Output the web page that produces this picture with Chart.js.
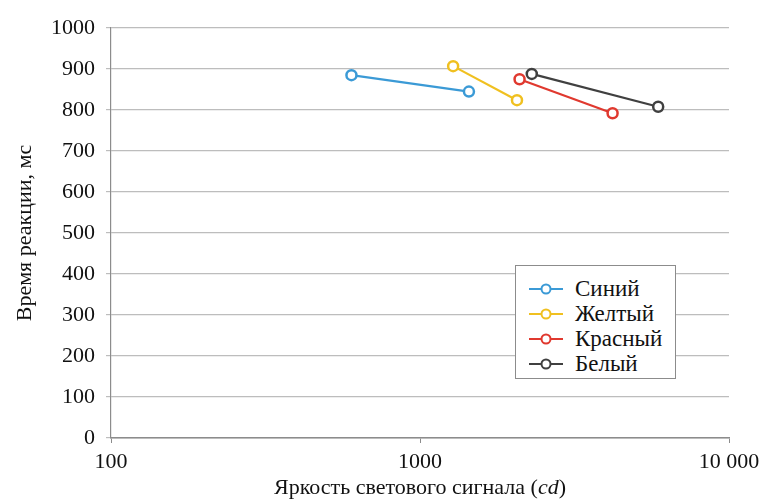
<!DOCTYPE html>
<html>
<head>
<meta charset="utf-8">
<script src="https://cdn.jsdelivr.net/npm/chart.js@4"></script>
<style>
  body { margin: 0; background: #fff; }
  #wrap { position: relative; width: 768px; height: 500px; }
  #legend {
    position: absolute; left: 515px; top: 265px; width: 161px; height: 114px;
    border: 1px solid #8c8c8c; background: #fff;
    font-family: "Liberation Serif", "DejaVu Serif", serif; font-size: 23px; color: #111;
    padding-top: 10px; box-sizing: border-box;
  }
  #legend .item { display: flex; align-items: center; height: 25px; }
  #legend svg { margin-left: 13px; margin-right: 12px; }
  #xtitle {
    position: absolute; left: 111px; width: 618px; top: 475px; text-align: center;
    font-family: "Liberation Serif", "DejaVu Serif", serif; font-size: 22px; line-height: 24px; color: #111;
  }
</style>
</head>
<body>
<div id="wrap">
  <canvas id="myChart" width="768" height="500"></canvas>
  <div id="legend"></div>
  <div id="xtitle">Яркость светового сигнала (<i>cd</i>)</div>
</div>
<script>
// data
const seriesNames = ['Синий', 'Желтый', 'Красный', 'Белый'];
const seriesColors = ['#3b9ad6', '#f0c020', '#e0392f', '#404040'];

const blueX = [600, 1440];
const blueY = [885, 845];
const yellowX = [1280, 2060];
const yellowY = [907, 824];
const redX = [2100, 4200];
const redY = [875, 792];
const whiteX = [2300, 5900];
const whiteY = [888, 808];

const xTicks = [100, 1000, 10000];
const xTickLabels = ['100', '1000', '10 000'];

const xs = [blueX, yellowX, redX, whiteX];
const ys = [blueY, yellowY, redY, whiteY];

const font = "'Liberation Serif', 'DejaVu Serif', serif";

const datasets = seriesNames.map((name, i) => ({
    label: name,
    data: xs[i].map((x, j) => ({ x: x, y: ys[i][j] })),
    borderColor: seriesColors[i],
    backgroundColor: '#fff',
    pointBackgroundColor: '#fff',
    pointBorderColor: seriesColors[i],
    pointBorderWidth: 2.5,
    pointRadius: 5,
    borderWidth: 2.2,
    showLine: true,
    fill: false
}));

new Chart(document.getElementById('myChart'), {
    type: 'scatter',
    data: { datasets: datasets },
    options: {
        responsive: false,
        animation: false,
        layout: { padding: { top: 28, right: 39, left: 0, bottom: 0 } },
        plugins: { legend: { display: false }, tooltip: { enabled: false } },
        scales: {
            x: {
                type: 'logarithmic',
                min: 100,
                max: 10000,
                afterBuildTicks: scale => { scale.ticks = xTicks.map(v => ({ value: v })); },
                afterFit: scale => { scale.height = 62; },
                ticks: {
                    color: '#111',
                    font: { family: font, size: 22 },
                    padding: 6,
                    maxRotation: 0,
                    callback: (v) => xTickLabels[xTicks.indexOf(v)]
                },
                grid: { drawOnChartArea: false, drawTicks: true, tickLength: 5, color: '#8c8c8c' },
                border: { color: '#8c8c8c', width: 1.5 },
                title: { display: false }
            },
            y: {
                min: 0,
                max: 1000,
                afterFit: scale => { scale.width = 111; },
                ticks: {
                    stepSize: 100,
                    color: '#111',
                    font: { family: font, size: 22 },
                    padding: 11,
                    callback: (v) => String(v)
                },
                grid: { color: '#bdbdbd', tickLength: 5, lineWidth: 1.2 },
                border: { color: '#8c8c8c', width: 1.2 },
                title: {
                    display: true,
                    text: 'Время реакции, мс',
                    color: '#111',
                    font: { family: font, size: 22 },
                    padding: { top: 12, bottom: 0 }
                }
            }
        }
    }
});

// legend as html text
const legendDiv = document.getElementById('legend');
seriesNames.forEach((name, i) => {
    const item = document.createElement('div');
    item.className = 'item';
    item.innerHTML = `<svg width="34" height="14"><line x1="0" y1="7" x2="34" y2="7" stroke="${seriesColors[i]}" stroke-width="2"/>` +
        `<circle cx="17" cy="7" r="4.5" fill="#fff" stroke="${seriesColors[i]}" stroke-width="2"/></svg><span>${name}</span>`;
    legendDiv.appendChild(item);
});
</script>
</body>
</html>
